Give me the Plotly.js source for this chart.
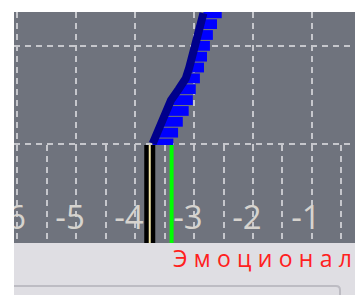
<!DOCTYPE html>
<html>
<head>
<meta charset="utf-8">
<script src="https://cdn.plot.ly/plotly-3.0.1.min.js"></script>
<style>
  html, body { margin: 0; padding: 0; overflow: hidden; background: #ffffff; }
  #chart { width: 355px; height: 295px; }
  .annotation-text { letter-spacing: 6.3px; }
</style>
</head>
<body>
<div id="chart"></div>
<script>
// ---- data ----
const xTickVals = [-6, -5, -4, -3, -2, -1];
const xTickText = ['-6', '-5', '-4', '-3', '-2', '-1'];

// stacked horizontal strips of the blue band (bottom to top)
const levels    = [0, 1, 2, 3, 4, 5, 6, 7, 8, 9, 10, 11, 12];
const leftEdge  = [-3.70, -3.62, -3.55, -3.48, -3.39, -3.26, -3.14, -3.08, -3.03, -2.98, -2.93, -2.89, -2.84];
const rightEdge = [-3.35, -3.27, -3.19, -3.09, -3.02, -2.97, -2.90, -2.83, -2.78, -2.73, -2.68, -2.61, -2.53];

// vertical marker lines in the lower band: black/yellow and green
const markerBlackX = [-3.75, -3.75];
const markerGreenX = [-3.38, -3.38];
const markerSpan   = [0, 1];

const caption = 'Эмоциональность';

// ---- styling ----
const bg = '#6f737d';
const gridColor = '#c6c7cc';
const gridDash = '6px,5px';

const widths = rightEdge.map((r, i) => r - leftEdge[i]);

const traces = [
  {
    type: 'bar', orientation: 'h',
    y: levels, base: leftEdge, x: widths,
    width: 0.9,
    marker: { color: '#0000ff', line: { width: 0 } },
    xaxis: 'x2', yaxis: 'y2', hoverinfo: 'skip'
  },
  {
    type: 'scatter', mode: 'lines',
    x: leftEdge, y: levels,
    line: { color: '#00008b', width: 8 },
    xaxis: 'x2', yaxis: 'y2', hoverinfo: 'skip'
  },
  {
    type: 'scatter', mode: 'lines',
    x: markerBlackX, y: markerSpan,
    line: { color: '#000000', width: 11 },
    xaxis: 'x', yaxis: 'y', hoverinfo: 'skip'
  },
  {
    type: 'scatter', mode: 'lines',
    x: markerBlackX, y: markerSpan,
    line: { color: '#f2e6a6', width: 2 },
    xaxis: 'x', yaxis: 'y', hoverinfo: 'skip'
  },
  {
    type: 'scatter', mode: 'lines',
    x: markerGreenX, y: markerSpan,
    line: { color: '#00ff00', width: 4 },
    xaxis: 'x', yaxis: 'y', hoverinfo: 'skip'
  }
];

const xRange = [-6.051, -0.271];
const splitFrac = 98 / 231;

const layout = {
  width: 355, height: 295,
  margin: { l: 14, r: 0, t: 12, b: 52, pad: 0 },
  paper_bgcolor: '#ffffff',
  plot_bgcolor: bg,
  showlegend: false,
  xaxis: {
    domain: [0, 1], anchor: 'y', range: xRange,
    tickmode: 'array', tickvals: xTickVals, ticktext: xTickText,
    ticks: '', showline: false, zeroline: false,
    showgrid: true, gridcolor: gridColor, gridwidth: 2, griddash: gridDash,
    minor: { dtick: 0.5, tick0: 0, showgrid: true, gridcolor: gridColor, gridwidth: 2, griddash: gridDash, ticks: '' },
    tickfont: { family: 'Open Sans', size: 33, color: '#d6d3ce' },
    ticklabelstandoff: -48,
    ticklabelshift: -6,
    ticklabeloverflow: 'allow',
    fixedrange: true
  },
  yaxis: {
    domain: [0, splitFrac], anchor: 'x', range: [0, 1],
    showgrid: false, zeroline: false, showticklabels: false, ticks: '', fixedrange: true
  },
  xaxis2: {
    domain: [0, 1], anchor: 'y2', range: xRange,
    tickmode: 'array', tickvals: xTickVals,
    showticklabels: false, ticks: '', showline: false, zeroline: false,
    showgrid: true, gridcolor: gridColor, gridwidth: 2, griddash: gridDash,
    fixedrange: true
  },
  yaxis2: {
    domain: [splitFrac, 1], anchor: 'x2', range: [-0.138, 12.12],
    tickmode: 'linear', tick0: 0, dtick: 9,
    showticklabels: false, ticks: '', zeroline: false,
    showgrid: true, gridcolor: gridColor, gridwidth: 2, griddash: gridDash,
    fixedrange: true
  },
  shapes: [
    { type: 'rect', xref: 'paper', yref: 'paper', x0: 0, x1: 1.01, y0: -0.26, y1: 0,
      fillcolor: '#dfdee3', line: { width: 0 }, layer: 'below' },
    { type: 'path', xref: 'paper', yref: 'paper',
      path: 'M 0,-0.1861 L 0.9443,-0.1861 Q 0.956,-0.1861 0.956,-0.2035 L 0.956,-0.27',
      line: { color: '#bdbcc3', width: 2 }, layer: 'below' },
    { type: 'rect', xref: 'paper', yref: 'paper', x0: -0.05, x1: 0, y0: -0.3, y1: 1.1,
      fillcolor: '#ffffff', line: { width: 0 }, layer: 'above' }
  ],
  annotations: [
    { text: caption, xref: 'paper', yref: 'paper',
      x: (171 - 14) / 341, y: -0.066, xanchor: 'left', yanchor: 'middle',
      showarrow: false,
      font: { family: 'Open Sans', size: 23, color: '#ff2020' } }
  ]
};

Plotly.newPlot('chart', traces, layout, { staticPlot: true, displayModeBar: false });
</script>
</body>
</html>
